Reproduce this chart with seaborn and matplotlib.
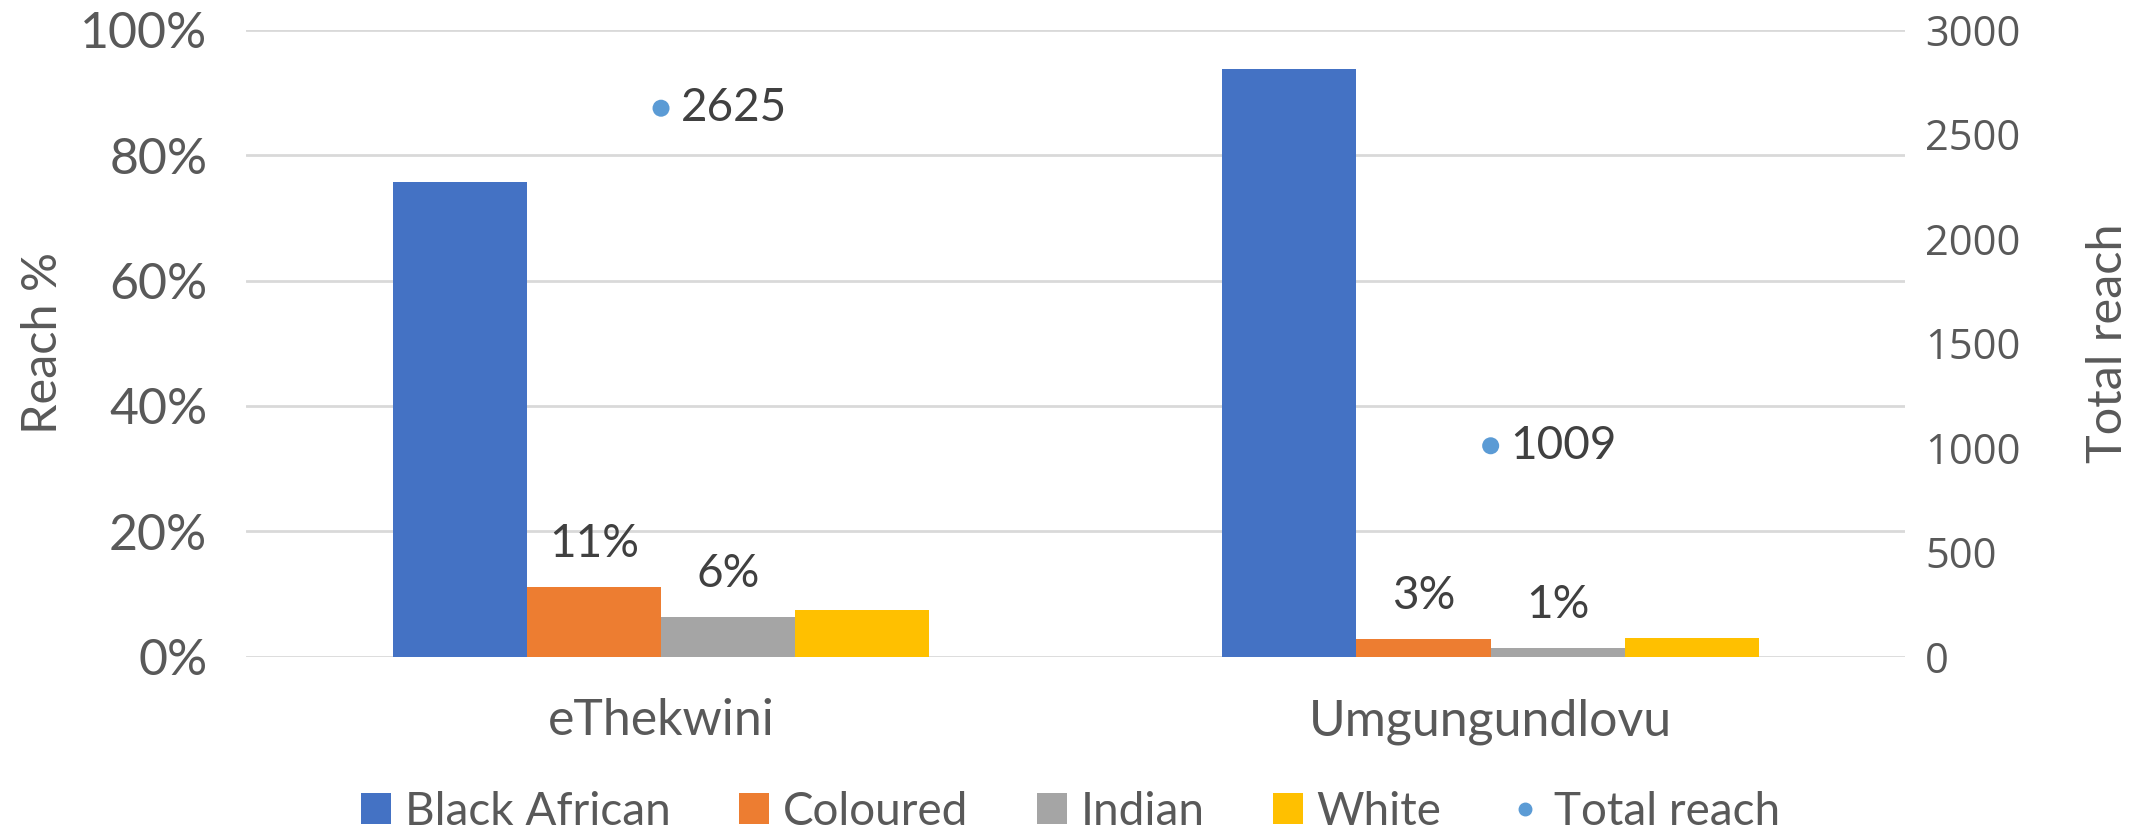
import numpy as np
import pandas as pd
import matplotlib
matplotlib.use("Agg")
import matplotlib.pyplot as plt
import seaborn as sns
from matplotlib.ticker import PercentFormatter, MultipleLocator
from matplotlib.patches import Patch
from matplotlib.lines import Line2D

regions = ["eThekwini", "Umgungundlovu"]
groups = ["Black African", "Coloured", "Indian", "White"]
reach_pct = {
    "Black African": [0.758, 0.937],
    "Coloured": [0.111, 0.028],
    "Indian": [0.063, 0.013],
    "White": [0.074, 0.030],
}
total_reach = [2625, 1009]
labelled = ["Coloured", "Indian"]
right_ticks = [0, 500, 1000, 1500, 2000, 2500, 3000]

colors = ["#4472C4", "#ED7D31", "#A5A5A5", "#FFC000"]
dot_color = "#5B9BD5"
axis_grey = "#595959"
label_grey = "#404040"

sns.set_style("white")
plt.rcParams["font.family"] = ["Lato", "DejaVu Sans"]

rows = []
for g in groups:
    for r, v in zip(regions, reach_pct[g]):
        rows.append({"Region": r, "Group": g, "Reach": v})
df = pd.DataFrame(rows)
df_tot = pd.DataFrame({"Region": regions, "Total reach": total_reach})

fig = plt.figure(figsize=(21.41, 8.30), dpi=100)
ax = fig.add_axes([0.115, 0.209, 0.775, 0.755])

sns.barplot(data=df, x="Region", y="Reach", hue="Group", hue_order=groups,
            palette=colors, width=0.647, gap=0, saturation=1, ax=ax,
            legend=False, edgecolor="none", linewidth=0)

for cont, g in zip(ax.containers, groups):
    if g in labelled:
        ax.bar_label(cont, labels=[f"{v:.0%}" for v in reach_pct[g]],
                     padding=16, fontsize=33, color=label_grey)

ax.set_ylim(0, 1)
ax.set_xlim(-0.5, 1.5)
ax.yaxis.set_major_locator(MultipleLocator(0.2))
ax.yaxis.set_major_formatter(PercentFormatter(1.0, decimals=0))
ax.grid(axis="y", color="#D9D9D9", linewidth=2)
ax.set_axisbelow(True)
for s in ax.spines.values():
    s.set_visible(False)
ax.tick_params(axis="both", length=0, labelsize=36, colors=axis_grey)
ax.tick_params(axis="y", pad=28)
ax.tick_params(axis="x", pad=30)
ax.set_xlabel("")
ax.set_ylabel("Reach %", fontsize=35, color=axis_grey)
ax.yaxis.set_label_coords(-0.109, 0.5)

ax2 = ax.twinx()
sns.scatterplot(data=df_tot, x="Region", y="Total reach", ax=ax2,
                color=dot_color, s=150, edgecolor="none", legend=False)
for r, t in zip(regions, total_reach):
    ax2.annotate(f"{t}", (r, t), xytext=(14, 0), textcoords="offset points",
                 va="center", ha="left", fontsize=33, color=label_grey)
ax2.set_ylim(0, 3000)
ax2.set_xlim(-0.5, 1.5)
ax2.set_yticks(right_ticks, [str(v) for v in right_ticks],
               fontfamily=["Open Sans", "DejaVu Sans"], fontsize=30,
               color=axis_grey)
for s in ax2.spines.values():
    s.set_visible(False)
ax2.tick_params(axis="y", length=0, pad=14)
ax2.set_ylabel("Total reach", fontsize=35, color=axis_grey, rotation=90)
ax2.yaxis.set_label_coords(1.1085, 0.5)
ax2.grid(False)

handles = [Patch(facecolor=c, edgecolor="none") for c in colors]
handles.append(Line2D([], [], marker="o", linestyle="none", color=dot_color,
                      markersize=9))
fig.legend(handles, groups + ["Total reach"], loc="center",
           bbox_to_anchor=(0.5, 0.022), ncol=5, frameon=False, fontsize=33,
           labelcolor=axis_grey, handlelength=0.65, handleheight=0.65,
           handletextpad=0.3, columnspacing=1.5, borderaxespad=0)

fig.savefig("out.png", dpi=100)
